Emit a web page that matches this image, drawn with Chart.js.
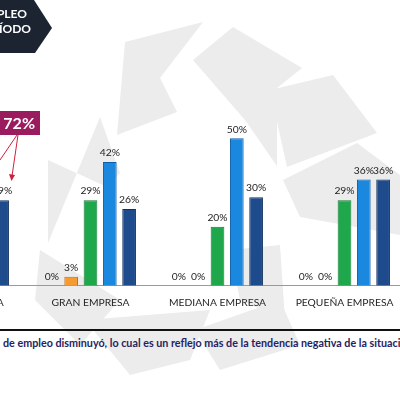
<!DOCTYPE html>
<html>
<head>
<meta charset="utf-8">
<script src="https://cdn.jsdelivr.net/npm/chart.js@4"></script>
<style>
  html, body { margin:0; padding:0; width:400px; height:394px; overflow:hidden; background:#fff; }
  #wrap { position:relative; width:400px; height:394px; overflow:hidden; }
  #bg { position:absolute; left:0; top:0; }
  #c { position:absolute; left:-100px; top:50px; }
  #tag { position:absolute; left:0; top:0; }
  .tagtxt { position:absolute; color:#fff; font:bold 12px Lato, "Open Sans", sans-serif; white-space:nowrap; }
  #call { position:absolute; left:-10px; top:111px; width:50px; height:24px; background:#9A1B5E;
          color:#fff; font:bold 16px Lato, sans-serif; line-height:24px; text-align:right; box-sizing:border-box; padding-right:5px; }
  #rule { position:absolute; left:0; top:329px; width:400px; height:2px; background:#111; }
  #note { position:absolute; left:3px; top:336px; white-space:nowrap; color:#262262;
          font:bold 10.75px Lato, "Open Sans", sans-serif; }
</style>
</head>
<body>
<div id="wrap">
  <svg id="bg" width="400" height="394">
    <g fill="#ececec">
      <polygon points="125,42 203,22 160,78 177,112 117,135"/>
      <polygon points="193,60 233,27 302,68 277,88 277,166 245,120"/>
      <polygon points="270,90 333,75 377,133 287,167"/>
      <polygon points="283,180 357,143 400,175 400,235 300,217"/>
      <polygon points="48,160 107,187 120,173 100,117 48,243"/>
      <polygon points="40,250 120,300 80,345 35,300"/>
      <polygon points="85,320 210,310 190,360 130,375"/>
      <polygon points="195,330 280,300 300,345 220,370"/>
      <polygon points="230,250 280,245 285,320 240,300"/>
    </g>
  </svg>
  <canvas id="c" width="508" height="270"></canvas>
  <svg id="tag" width="60" height="60">
    <polygon points="0,0 34,0 52,28 35,53 0,53" fill="#1b2430"/>
  </svg>
  <div class="tagtxt" style="right:373px; top:6px;">EMPLEO</div>
  <div class="tagtxt" style="right:369px; top:21px;">PERÍODO</div>
  <div id="call">72%</div>
  <svg style="position:absolute;left:0;top:0" width="60" height="200">
    <g stroke="#d0203a" stroke-width="1" fill="none">
      <line x1="18" y1="135" x2="12" y2="176"/>
      <line x1="17" y1="135" x2="0" y2="160"/>
    </g>
    <polygon points="9,174 15,175 11.5,181" fill="#d0203a"/>
  </svg>
  <div id="rule"></div>
  <div id="note">de empleo disminuyó, lo cual es un reflejo más de la tendencia negativa de la situación económica</div>
</div>
<script>
const categories = ['TOTAL EMPRESA', 'GRAN EMPRESA', 'MEDIANA EMPRESA', 'PEQUEÑA EMPRESA'];
const serie1 = [0, 0, 0, 0];
const serie2 = [2, 3, 0, 0];
const serie3 = [26, 29, 20, 29];
const serie4 = [43, 42, 50, 36];
const serie5 = [29, 26, 30, 36];

const labelPlugin = {
  id: 'vals',
  afterDatasetsDraw(chart) {
    const ctx = chart.ctx;
    ctx.save();
    ctx.font = '10.3px Lato, "Open Sans", sans-serif';
    ctx.fillStyle = '#222222';
    ctx.textAlign = 'center';
    ctx.textBaseline = 'bottom';
    chart.data.datasets.forEach((ds, i) => {
      const meta = chart.getDatasetMeta(i);
      meta.data.forEach((bar, j) => {
        ctx.fillText(ds.data[j] + '%', bar.x, bar.y - 4);
      });
    });
    ctx.restore();
  }
};

const mk = (label, data, bg, bd) => ({ label, data, backgroundColor: bg, borderColor: bd, borderWidth: 1 });

new Chart(document.getElementById('c'), {
  type: 'bar',
  data: {
    labels: categories,
    datasets: [
      mk('Serie 1', serie1, '#A5A5A5', '#7f7f7f'),
      mk('Serie 2', serie2, '#F59B2F', '#C06A14'),
      mk('Serie 3', serie3, '#1EA84B', '#137A35'),
      mk('Serie 4', serie4, '#1A88DE', '#0D5EA8'),
      mk('Serie 5', serie5, '#1D4B8B', '#12315F')
    ]
  },
  options: {
    responsive: false,
    animation: false,
    categoryPercentage: 0.76,
    barPercentage: 0.71,
    layout: { padding: 0 },
    plugins: { legend: { display: false }, tooltip: { enabled: false } },
    scales: {
      x: {
        grid: { display: false, drawTicks: false },
        border: { display: true, color: '#9a9a9a', width: 1 },
        ticks: { color: '#262626', font: { family: 'Lato, "Open Sans", sans-serif', size: 10.3 }, padding: 11, maxRotation: 0, autoSkip: false }
      },
      y: { display: false, min: 0, max: 80 }
    }
  },
  plugins: [labelPlugin]
});
</script>
</body>
</html>
